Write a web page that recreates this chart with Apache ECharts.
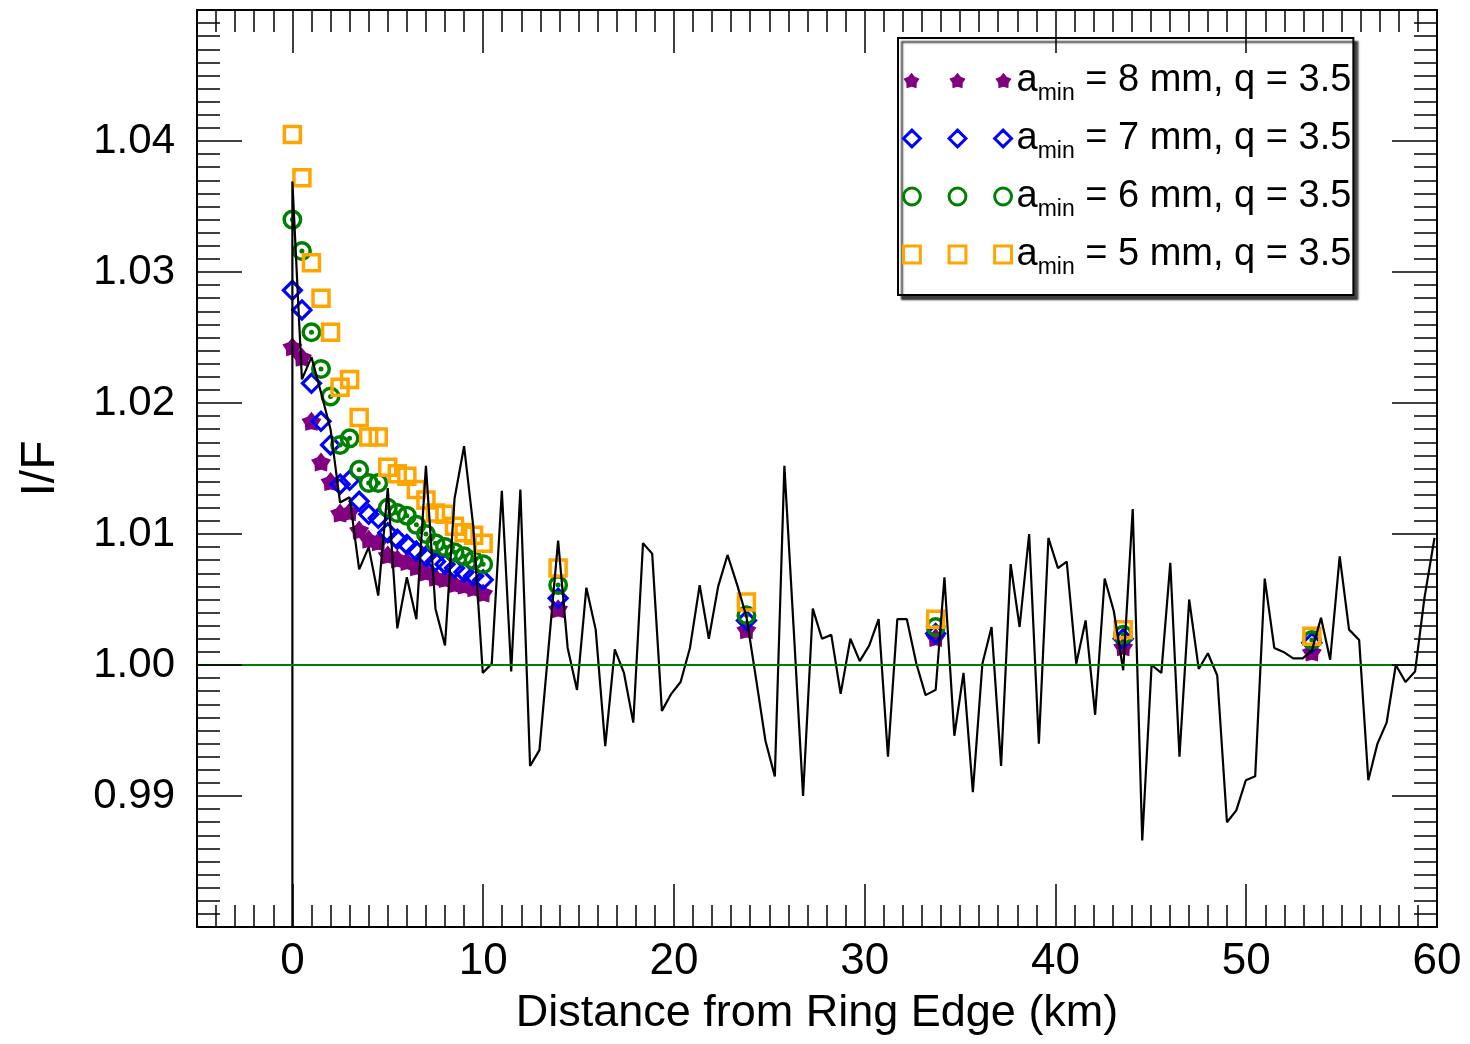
<!DOCTYPE html>
<html>
<head>
<meta charset="utf-8">
<script src="https://cdn.jsdelivr.net/npm/echarts@6/dist/echarts.min.js"></script>
<style>
html,body{margin:0;padding:0;background:#fff;}
#chart{width:1470px;height:1044px;}
</style>
</head>
<body>
<div id="chart"></div>
<script>
// ---- data ----
const lineX = [0, 0, 0.5, 1.0, 1.5, 2.0, 2.5, 3.0, 3.5, 4.0, 4.5, 5.0, 5.5, 6.0, 6.5, 7.0, 7.5, 8.0, 8.5, 9.0, 9.48, 9.98,
  10.45, 10.98, 11.47, 11.95, 12.46, 12.95, 13.44, 13.93, 14.43, 14.92, 15.41, 15.9, 16.4, 16.9, 17.38, 17.87, 18.38, 18.86,
  19.37, 19.86, 20.35, 20.84, 21.35, 21.83, 22.32, 22.81, 23.32, 23.8, 24.3, 24.8, 25.29, 25.79, 26.28, 26.77, 27.28, 27.76,
  28.25, 28.74, 29.25, 29.74, 30.24, 30.73, 31.22, 31.71, 32.21, 32.71, 33.19, 33.72, 34.18, 34.7, 35.18, 35.67, 36.17, 36.65,
  37.15, 37.65, 38.12, 38.62, 39.13, 39.63, 40.13, 40.59, 41.09, 41.58, 42.08, 42.58, 43.06, 43.55, 44.05, 44.55, 45.04, 45.55,
  46.02, 46.5, 47.01, 47.51, 47.99, 48.48, 48.99, 49.48, 49.98, 50.47, 50.97, 51.47, 51.95, 52.46, 52.96, 53.44, 53.92, 54.4,
  54.9, 55.39, 55.92, 56.4, 56.88, 57.36, 57.84, 58.35, 58.85, 59.34, 59.87];
const lineY = [0.975, 1.0369, 1.0218, 1.0235, 1.0208, 1.0180, 1.0124, 1.0128, 1.0073, 1.0090, 1.0053, 1.0135, 1.0028, 1.0067, 1.0035, 1.0152, 1.0043, 1.0015, 1.0127, 1.0167, 1.0106, 0.9994,
  1.0001, 1.0133, 0.9995, 1.0134, 0.9923, 0.9935, 1.0015, 1.0095, 1.0013, 0.9981, 1.0059, 1.0027, 0.9938, 1.0012, 0.9994, 0.9956, 1.0093, 1.0085,
  0.9965, 0.9978, 0.9987, 1.0013, 1.0061, 1.0020, 1.0060, 1.0084, 1.0061, 1.0037, 0.9990, 0.9942, 0.9915, 1.0152, 1.0027, 0.9900, 1.0043, 1.0020,
  1.0023, 0.9978, 1.0020, 1.0003, 1.0015, 1.0035, 0.9930, 1.0035, 1.0035, 1.0001, 0.9977, 0.9981, 1.0067, 0.9946, 0.9994, 0.9903, 1.0001, 1.0029,
  0.9923, 1.0077, 1.0029, 1.0100, 0.9940, 1.0097, 1.0074, 1.0079, 1.0001, 1.0034, 0.9962, 1.0066, 1.0041, 0.9996, 1.0119, 0.9866, 1.0000, 0.9994,
  1.0078, 0.9930, 1.0050, 0.9997, 1.0009, 0.9992, 0.9880, 0.9889, 0.9912, 0.9915, 1.0066, 1.0013, 1.0010, 1.0005, 1.0005, 1.0011, 1.0036, 1.0004,
  1.0083, 1.0027, 1.0019, 0.9912, 0.9940, 0.9956, 1.0000, 0.9987, 0.9995, 1.0051, 1.0097];

const markerX = [0, 0.5, 1, 1.5, 2, 2.5, 3, 3.5, 4, 4.5, 5, 5.5, 6, 6.5, 7, 7.5, 8, 8.5, 9, 9.5, 10,
  13.93, 23.8, 33.72, 43.55, 53.44];
const amin8 = [1.0243, 1.0235, 1.0186, 1.0155, 1.0140, 1.0116, 1.0117, 1.0103, 1.0096, 1.0094, 1.0084, 1.0081, 1.0079, 1.0075, 1.0071, 1.0067, 1.0066, 1.0062, 1.0061, 1.0059, 1.0055,
  1.0043, 1.0027, 1.0021, 1.0014, 1.0010];
const amin7 = [1.0286, 1.0271, 1.0215, 1.0186, 1.0168, 1.0138, 1.0141, 1.0125, 1.0115, 1.0112, 1.0101, 1.0096, 1.0092, 1.0087, 1.0083, 1.0079, 1.0077, 1.0074, 1.0071, 1.0068, 1.0065,
  1.0051, 1.0034, 1.0024, 1.0020, 1.0017];
const amin6 = [1.0340, 1.0316, 1.0254, 1.0226, 1.0205, 1.0168, 1.0173, 1.0149, 1.0139, 1.0139, 1.0120, 1.0116, 1.0114, 1.0107, 1.0100, 1.0093, 1.0090, 1.0086, 1.0083, 1.0080, 1.0077,
  1.0061, 1.0038, 1.0029, 1.0023, 1.0019];
const amin5 = [1.0405, 1.0372, 1.0307, 1.0280, 1.0254, 1.0212, 1.0218, 1.0189, 1.0174, 1.0174, 1.0151, 1.0146, 1.0144, 1.0134, 1.0126, 1.0116, 1.0115, 1.0106, 1.0101, 1.0099, 1.0093,
  1.0074, 1.0048, 1.0035, 1.0027, 1.0022];

const xTickLabels = [0, 10, 20, 30, 40, 50, 60];
const seriesNames = ['amin8', 'amin7', 'amin6', 'amin5'];
const legendLabels = {
  amin8: '{a|a}{sub|min}{b| = 8 mm, q = 3.5}',
  amin7: '{a|a}{sub|min}{b| = 7 mm, q = 3.5}',
  amin6: '{a|a}{sub|min}{b| = 6 mm, q = 3.5}',
  amin5: '{a|a}{sub|min}{b| = 5 mm, q = 3.5}'
};

// ---- styling ----
const FONT = 'Liberation Sans, Arial, Helvetica, sans-serif';
const PURPLE = '#800080', BLUE = '#0000ff', GREEN = '#008000', ORANGE = '#ffa500';

// fat 5-point star (outer r 8, inner r 5.2) in a 16x16 box
const starPts = (function () {
  const pts = [];
  for (let i = 0; i < 10; i++) {
    const r = i % 2 === 0 ? 8 : 5.2;
    const a = -Math.PI / 2 + i * Math.PI / 5;
    pts.push([8 + r * Math.cos(a), 8 + r * Math.sin(a)]);
  }
  return pts;
})();
const starPath = 'path://M' + starPts.map(p => p[0].toFixed(3) + ' ' + p[1].toFixed(3)).join(' L') + ' Z';

function tripleStar() {
  let s = '';
  [0, 46, 92].forEach(o => {
    s += 'M' + starPts.map(p => (p[0] * 1.06 + o + 0.5).toFixed(3) + ' ' + (p[1] * 1.06 + 0.2).toFixed(3)).join(' L') + ' Z ';
  });
  return 'path://' + s;
}
function tripleDiamond() {
  let s = '';
  [0, 46, 92].forEach(o => {
    s += `M${o+8.5} 0 L${o+17} 8.5 L${o+8.5} 17 L${o} 8.5 Z `;
  });
  return 'path://' + s;
}
function tripleCircle() {
  let s = '';
  [0, 46, 92].forEach(o => {
    s += `M${o} 8.5 A8.5 8.5 0 1 0 ${o+17} 8.5 A8.5 8.5 0 1 0 ${o} 8.5 Z `;
  });
  return 'path://' + s;
}
function tripleSquare() {
  let s = '';
  [0, 46, 92].forEach(o => {
    s += `M${o} 0 L${o+17} 0 L${o+17} 17 L${o} 17 Z `;
  });
  return 'path://' + s;
}

const lineData = lineX.map((x, i) => [x, lineY[i]]);
const mk = arr => markerX.map((x, i) => [x, arr[i]]);

const tickStyle = {color: '#000', width: 1.5};
const axisLineStyle = {show: true, onZero: false, lineStyle: {color: '#000', width: 2}};

const xMajorBase = {
  type: 'value', min: -5, max: 60, z: 10,
  splitLine: {show: false},
  axisLine: axisLineStyle,
  axisTick: {show: true, inside: true, length: 43, lineStyle: tickStyle, customValues: xTickLabels}
};
const xMinorBase = {
  type: 'value', min: -5, max: 60, interval: 1, z: 10,
  splitLine: {show: false},
  axisLine: {show: false, onZero: false},
  axisLabel: {show: false},
  axisTick: {show: true, inside: true, length: 22, lineStyle: tickStyle}
};
const yBase = {
  type: 'value', min: 0.98, max: 1.05, interval: 0.01, z: 10,
  splitLine: {show: false},
  axisLine: axisLineStyle,
  axisTick: {show: true, inside: true, length: 45, lineStyle: tickStyle},
  minorTick: {show: true, splitNumber: 10, length: 23, lineStyle: tickStyle},
  minorSplitLine: {show: false}
};

const option = {
  animation: false,
  backgroundColor: '#fff',
  grid: {left: 197, right: 33, top: 10, bottom: 117, containLabel: false},
  xAxis: [
    Object.assign({}, xMajorBase, {
      position: 'bottom',
      axisLabel: {show: true, customValues: xTickLabels, fontSize: 44, fontFamily: FONT, color: '#000', margin: 13},
      name: 'Distance from Ring Edge (km)', nameLocation: 'middle', nameGap: 64,
      nameTextStyle: {fontSize: 45, fontFamily: FONT, color: '#000'}
    }),
    Object.assign({}, xMinorBase, {position: 'bottom'}),
    Object.assign({}, xMajorBase, {position: 'top', axisLabel: {show: false}}),
    Object.assign({}, xMinorBase, {position: 'top'})
  ],
  yAxis: [
    Object.assign({}, yBase, {
      position: 'left',
      axisLabel: {show: true, fontSize: 42, fontFamily: FONT, color: '#000', margin: 22,
        showMinLabel: false, showMaxLabel: false, formatter: v => v.toFixed(2)},
      name: 'I/F', nameLocation: 'middle', nameGap: 132,
      nameTextStyle: {fontSize: 48, fontFamily: FONT, color: '#000'}
    }),
    Object.assign({}, yBase, {position: 'right', axisLabel: {show: false}})
  ],
  legend: {
    show: true, orient: 'vertical', left: 898, top: 38,
    padding: [18, 2, 16, 4], itemGap: 9,
    itemWidth: 108, itemHeight: 17,
    backgroundColor: '#fff', borderColor: '#000', borderWidth: 2,
    shadowColor: 'rgba(0,0,0,0.75)', shadowBlur: 2, shadowOffsetX: 4, shadowOffsetY: 4,
    selectedMode: false,
    formatter: name => legendLabels[name],
    textStyle: {
      fontSize: 38, fontFamily: FONT, color: '#000',
      rich: {
        a: {fontSize: 38, fontFamily: FONT, color: '#000', lineHeight: 44},
        sub: {fontSize: 23, fontFamily: FONT, color: '#000', lineHeight: 24, padding: [26, 0, 0, 0]},
        b: {fontSize: 38, fontFamily: FONT, color: '#000', lineHeight: 44}
      }
    },
    data: [
      {name: 'amin8', icon: tripleStar(), itemStyle: {color: PURPLE, borderWidth: 0}},
      {name: 'amin7', icon: tripleDiamond(), itemStyle: {color: 'rgba(0,0,0,0)', borderColor: BLUE, borderWidth: 3}},
      {name: 'amin6', icon: tripleCircle(), itemStyle: {color: 'rgba(0,0,0,0)', borderColor: GREEN, borderWidth: 3}},
      {name: 'amin5', icon: tripleSquare(), itemStyle: {color: 'rgba(0,0,0,0)', borderColor: ORANGE, borderWidth: 3}}
    ]
  },
  series: [
    {
      name: 'data', type: 'line', data: lineData, showSymbol: false, symbol: 'none',
      lineStyle: {color: '#000', width: 2.2}, clip: true, silent: true,
      markLine: {
        silent: true, symbol: ['none', 'none'], label: {show: false},
        lineStyle: {color: GREEN, width: 2, type: 'solid'},
        data: [{yAxis: 1}]
      }
    },
    {
      name: 'amin8', type: 'scatter', data: mk(amin8), symbol: starPath, symbolKeepAspect: true, symbolSize: 20,
      itemStyle: {color: PURPLE, opacity: 1}
    },
    {
      name: 'amin7', type: 'scatter', data: mk(amin7), symbol: 'diamond', symbolSize: 18,
      itemStyle: {color: 'rgba(0,0,0,0)', borderColor: BLUE, borderWidth: 3.2, opacity: 1}
    },
    {
      name: 'amin6', type: 'scatter', data: mk(amin6), symbol: 'circle', symbolSize: 16.5,
      itemStyle: {color: 'rgba(0,0,0,0)', borderColor: GREEN, borderWidth: 3.5, opacity: 1}
    },
    {
      name: 'amin6dot', type: 'scatter', data: mk(amin6), symbol: 'circle', symbolSize: 5,
      itemStyle: {color: GREEN, opacity: 1}
    },
    {
      name: 'amin5', type: 'scatter', data: mk(amin5), symbol: 'rect', symbolSize: 16,
      itemStyle: {color: 'rgba(0,0,0,0)', borderColor: ORANGE, borderWidth: 3.5, opacity: 1}
    }
  ]
};

const chart = echarts.init(document.getElementById('chart'), null, {renderer: 'canvas'});
chart.setOption(option);
</script>
</body>
</html>
